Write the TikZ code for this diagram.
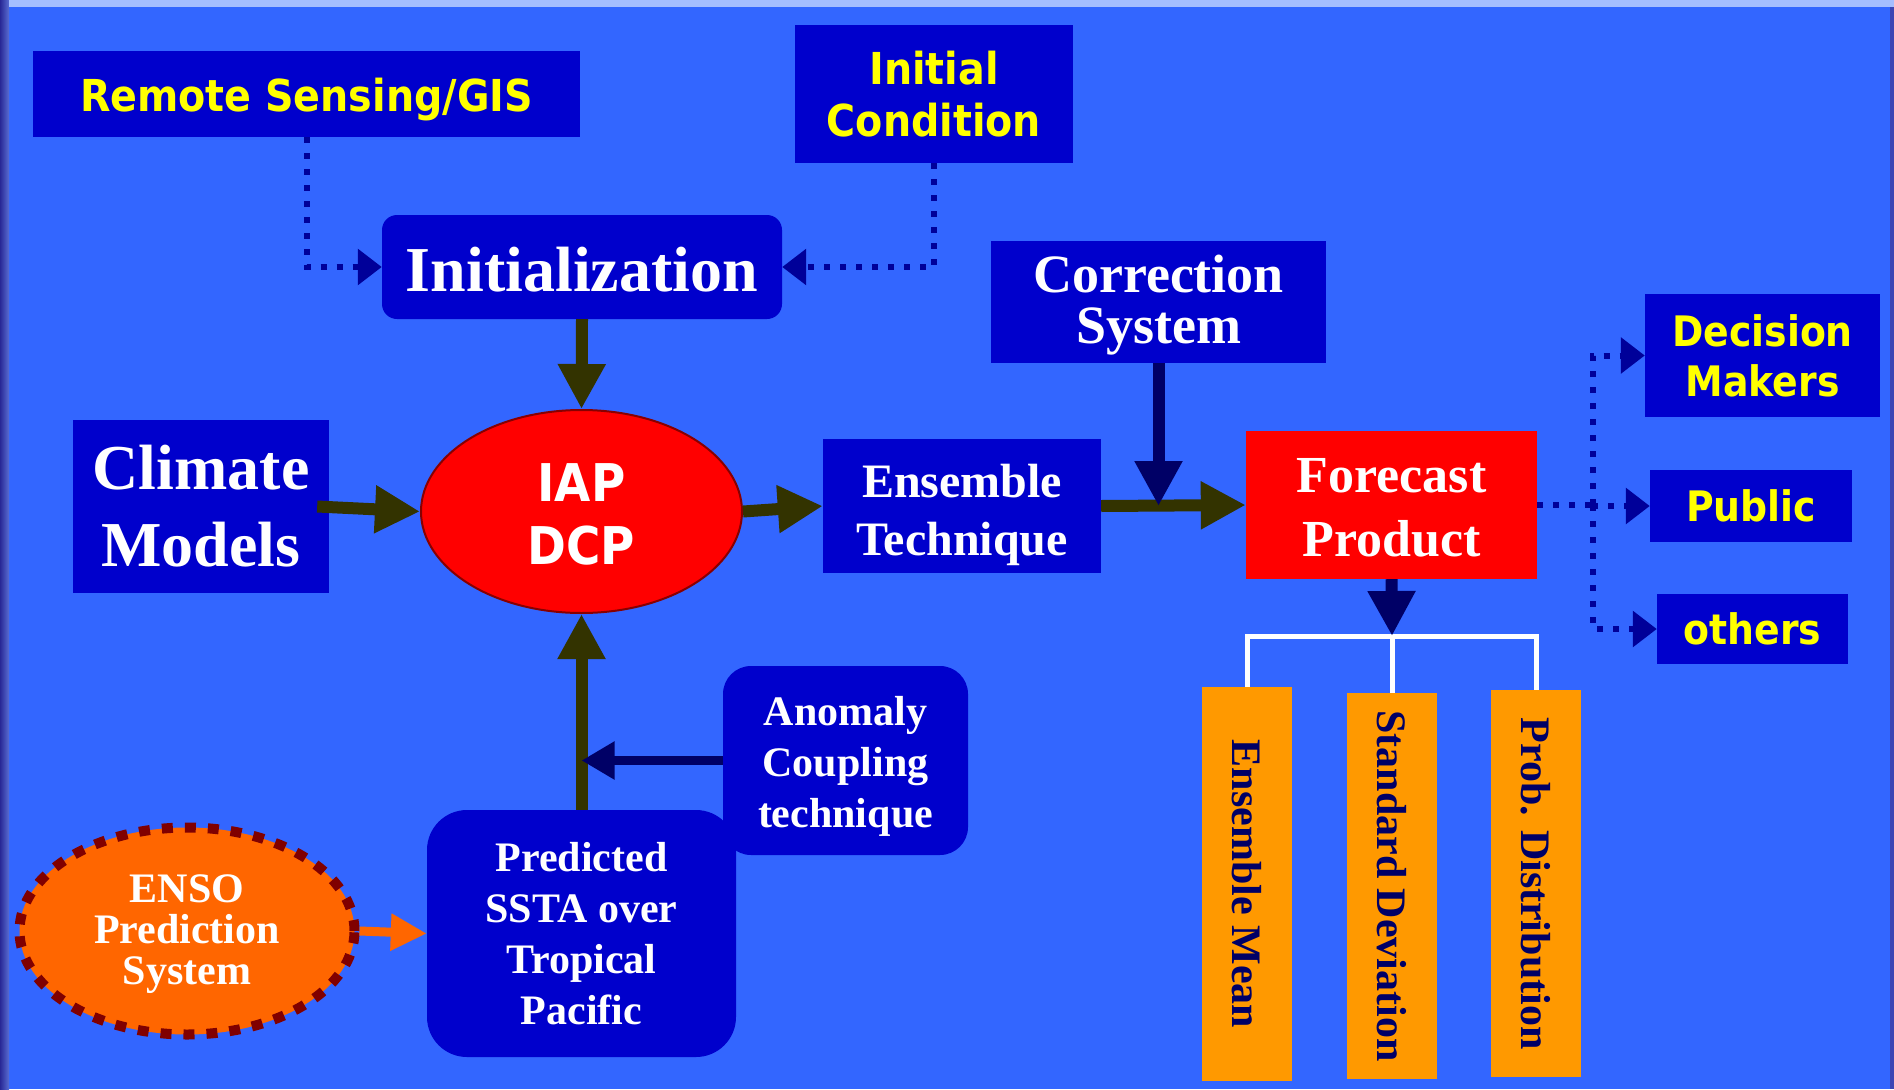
\documentclass[tikz,border=0pt]{standalone}
\usepackage{fontspec}
\setmainfont{Liberation Serif}
\newfontfamily\tah[FakeStretch=0.9]{DejaVu Sans}
\usetikzlibrary{arrows.meta,shapes.geometric}
\definecolor{bg}{HTML}{3366FF}
\definecolor{boxblue}{HTML}{0000CC}
\definecolor{olive}{HTML}{333300}
\definecolor{navy}{HTML}{000066}
\definecolor{dotblue}{HTML}{000099}
\definecolor{ensored}{HTML}{800000}
\definecolor{ensofill}{HTML}{FF6600}
\definecolor{colorange}{HTML}{FF9900}
\definecolor{yel}{HTML}{FFFF00}
\definecolor{iapborder}{HTML}{880000}
\definecolor{leftdark}{HTML}{282896}
\definecolor{leftlight}{HTML}{5A6ED2}
\definecolor{topband}{HTML}{A5BEFF}
\definecolor{rightband}{HTML}{3C46B4}
\newcommand\myfs[2]{\fontsize{#1}{#2}\selectfont}
\newcommand\toppad[1]{\rule{0pt}{#1}}
\tikzset{
  bx/.style={rectangle, fill=boxblue, draw=none, inner sep=0pt, align=center, text=white},
  ybx/.style={bx, text=yel},
  col/.style={rectangle, fill=colorange, draw=none, inner sep=0pt, rotate=-90, text=navy,
    font=\bfseries\myfs{42}{50}, minimum height=90pt},
  olivearr/.style={draw=olive, line width=12pt, -{Triangle[width=45pt,length=45pt]}},
  navyarr/.style={draw=navy, line width=12pt, -{Triangle[width=45pt,length=45pt]}},
  dotline/.style={draw=dotblue, line width=6pt, dash pattern=on 6pt off 10pt},
  dotarr/.style={dotline, -{Triangle[width=35pt,length=24pt]}},
}
\begin{document}
\begin{tikzpicture}[x=1pt,y=-1pt]
% background
\fill[bg] (0,0) rectangle (1894,1089);
\shade[left color=leftdark, right color=leftlight] (0,0) rectangle (9,1089);
\fill[topband] (9,0) rectangle (1894,7);
\fill[rightband] (1890,7) rectangle (1894,1089);
\useasboundingbox (0,0) rectangle (1894,1089);

% nodes
\node[ybx, minimum width=547pt, minimum height=86pt, font=\tah\bfseries\myfs{44}{52}] (rs) at (306.5,94) {\toppad{45pt}Remote Sensing/GIS};
\node[ybx, minimum width=278pt, minimum height=138pt, font=\tah\bfseries\myfs{44}{52}] (ic) at (934,94) {Initial\\Condition};
\node[bx, rounded corners=15pt, minimum width=400pt, minimum height=104pt, font=\bfseries\myfs{64}{75}] (init) at (582,267) {\toppad{49pt}Initialization};
\node[bx, minimum width=335pt, minimum height=122pt, font=\bfseries\myfs{54}{51}] (cs) at (1158.5,302) {\toppad{43pt}Correction\\System};
\node[bx, minimum width=256pt, minimum height=173pt, font=\bfseries\myfs{64}{77}] (cm) at (201,506.5) {Climate\\Models};
\node[ellipse, fill=red, draw=iapborder, line width=2pt, inner sep=0pt, minimum width=321pt, minimum height=203pt, align=center, text=white, font=\tah\bfseries\myfs{52}{63}] (iap) at (581.5,511.5) {\toppad{44pt}IAP\\DCP};
\node[bx, minimum width=278pt, minimum height=134pt, font=\bfseries\myfs{48}{58}] (ens) at (962,506) {\toppad{51pt}Ensemble\\Technique};
\node[bx, fill=red, minimum width=291pt, minimum height=148pt, font=\bfseries\myfs{52}{64}] (fp) at (1391.5,505) {\toppad{40pt}Forecast\\Product};
\node[ybx, minimum width=235pt, minimum height=123pt, font=\tah\bfseries\myfs{42}{50}] (dm) at (1762.5,355.5) {Decision\\Makers};
\node[ybx, minimum width=202pt, minimum height=72pt, font=\tah\bfseries\myfs{42}{50}] (pub) at (1751,506) {Public};
\node[ybx, minimum width=191pt, minimum height=70pt, font=\tah\bfseries\myfs{42}{50}] (oth) at (1752.5,629) {others};
\node[bx, rounded corners=28pt, minimum width=245pt, minimum height=189pt, font=\bfseries\myfs{42}{51}] (ano) at (845.5,760.5) {\toppad{41pt}Anomaly\\Coupling\\technique};
\node[bx, rounded corners=40pt, minimum width=309pt, minimum height=247pt, font=\bfseries\myfs{42}{51}] (pred) at (581.5,933.5) {Predicted\\SSTA over\\Tropical\\Pacific};
\node[ellipse, fill=ensofill, draw=ensored, line width=10pt, dash pattern=on 11pt off 12pt, inner sep=0pt, minimum width=335pt, minimum height=207pt, align=center, text=white, font=\bfseries\myfs{42}{41}] (enso) at (187,931) {\toppad{35pt}ENSO\\Prediction\\System};
\node[col, minimum width=394pt] (c1) at (1247,884) {Ensemble Mean};
\node[col, minimum width=386pt] (c2) at (1392,886) {Standard Deviation};
\node[col, minimum width=387pt] (c3) at (1536,883.5) {Prob. Distribution};

% white bracket
\coordinate (bar) at (1392,636);
\draw[white, line width=5pt] (c1.west) |- (bar) -| (c3.west);
\draw[white, line width=5pt] (bar) -- (c2.west);

% dotted connectors
\draw[dotarr] (rs.south) |- (init.west);
\draw[dotarr] (ic.south) |- (init.east);
\coordinate (hx) at (1593,505);
\draw[dotline] (fp.east) -- (hx);
\draw[dotarr] (hx) |- (dm.west);
\draw[dotarr] (hx) |- (pub.west);
\draw[dotarr] (hx) |- (oth.west);

% solid arrows
\draw[olivearr] (init.south) -- (iap.north);
\draw[olivearr] ([xshift=-12pt]cm.east) -- (iap.west);
\draw[olivearr] (iap.east) -- (ens.west);
\draw[olivearr] (ens.east) -- (fp.west);
\draw[olivearr] (pred.north) -- (iap.south);
\draw[navyarr] (cs.south) -- (cs.south |- ens.east);
\draw[navyarr] (fp.south) -- (bar);
\draw[draw=navy, line width=9pt, -{Triangle[width=36pt,length=33pt]}] (ano.west) -- (pred.north |- ano.west);
\draw[draw=ensofill, line width=9pt, -{Triangle[width=35pt,length=36pt]}] (enso.east) -- (pred.west);
\end{tikzpicture}
\end{document}
